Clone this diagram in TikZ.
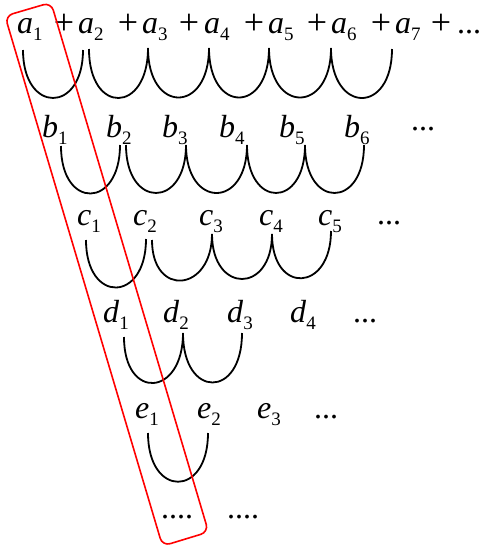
\documentclass[tikz,border=0pt]{standalone}
\usepackage{fontspec}
\setmainfont{Liberation Serif}
\usetikzlibrary{calc}
\newcommand\sbs[1]{\raisebox{-7pt}{\fontsize{19}{19}\selectfont #1}}
\newcommand\tm[2]{\textit{#1}\sbs{#2}}
\newcommand\uarc[3]{\draw[arcline] (#1) .. controls ($(#1)+(0,#3)$) and ($(#2)+(0,#3)$) .. (#2);}
\begin{document}
\begin{tikzpicture}[x=1pt,y=-1pt,
 term/.style={inner sep=0pt, anchor=base west, font=\fontsize{32}{38}\selectfont},
 plus/.style={inner sep=0pt, anchor=base, font=\fontsize{36}{40}\selectfont},
 arcline/.style={line width=1.8pt, black},
 frame/.style={red, line width=1.6pt, rounded corners=8pt}]
\useasboundingbox (0,0) rectangle (483,550);

% row a
\node[term] (a1) at (17,33) {\tm{a}{1}};
\node[plus] (p1) at (64,34) {+};
\node[term] (a2) at (78,33) {\tm{a}{2}};
\node[plus] (p2) at (128,34) {+};
\node[term] (a3) at (142,33) {\tm{a}{3}};
\node[plus] (p3) at (189,34) {+};
\node[term] (a4) at (204,33) {\tm{a}{4}};
\node[plus] (p4) at (254,34) {+};
\node[term] (a5) at (268,33) {\tm{a}{5}};
\node[plus] (p5) at (317,34) {+};
\node[term] (a6) at (331,33) {\tm{a}{6}};
\node[plus] (p6) at (381,34) {+};
\node[term] (a7) at (395,33) {\tm{a}{7}};
\node[plus] (p7) at (441,34) {+};
\node[term] (adots) at (457,33) {...};

% row b
\node[term] (b1) at (42,137) {\tm{b}{1}};
\node[term] (b2) at (106,137) {\tm{b}{2}};
\node[term] (b3) at (162,137) {\tm{b}{3}};
\node[term] (b4) at (219,137) {\tm{b}{4}};
\node[term] (b5) at (279,137) {\tm{b}{5}};
\node[term] (b6) at (344,137) {\tm{b}{6}};
\node[term] (bdots) at (411,130) {...};

% row c
\node[term] (c1) at (77,225) {\tm{c}{1}};
\node[term] (c2) at (133,225) {\tm{c}{2}};
\node[term] (c3) at (199,225) {\tm{c}{3}};
\node[term] (c4) at (259,225) {\tm{c}{4}};
\node[term] (c5) at (318,225) {\tm{c}{5}};
\node[term] (cdots) at (377,224) {...};

% row d
\node[term] (d1) at (103,322) {\tm{d}{1}};
\node[term] (d2) at (163,322) {\tm{d}{2}};
\node[term] (d3) at (227,322) {\tm{d}{3}};
\node[term] (d4) at (290,322) {\tm{d}{4}};
\node[term] (ddots) at (353,322) {...};

% row e
\node[term] (e1) at (135,418) {\tm{e}{1}};
\node[term] (e2) at (197,418) {\tm{e}{2}};
\node[term] (e3) at (257,418) {\tm{e}{3}};
\node[term] (edots) at (314,418) {...};

% last row
\node[term] (f1) at (161,518) {....};
\node[term] (f2) at (227,518) {....};

% arc end points
\coordinate (ua1) at (23,50);  \coordinate (ua2) at (83,50);
\coordinate (ua3) at (89,49);  \coordinate (ua4) at (148,48);
\coordinate (ua5) at (209,48); \coordinate (ua6) at (269,48);
\coordinate (ua7) at (331,48); \coordinate (ua8) at (392,49);

\coordinate (ub1) at (61,146);  \coordinate (ub2) at (120,145);
\coordinate (ub3) at (126,145); \coordinate (ub4) at (186,145);
\coordinate (ub5) at (247,145); \coordinate (ub6) at (305,145);
\coordinate (ub7) at (364,145);

\coordinate (uc1) at (86,240);  \coordinate (uc2) at (146,239);
\coordinate (uc3) at (152,240); \coordinate (uc4) at (212,234);
\coordinate (uc5) at (272,234); \coordinate (uc6) at (331,231);

\coordinate (ud1) at (124,337); \coordinate (ud2) at (183,333);
\coordinate (ud3) at (242,333);

\coordinate (ue1) at (148,433); \coordinate (ue2) at (208,433);

\uarc{ua1}{ua2}{64}
\uarc{ua3}{ua4}{66}
\uarc{ua4}{ua5}{66}
\uarc{ua5}{ua6}{66}
\uarc{ua6}{ua7}{66}
\uarc{ua7}{ua8}{66}

\uarc{ub1}{ub2}{64}
\uarc{ub3}{ub4}{64}
\uarc{ub4}{ub5}{64}
\uarc{ub5}{ub6}{64}
\uarc{ub6}{ub7}{64}

\uarc{uc1}{uc2}{64}
\uarc{uc3}{uc4}{58}
\uarc{uc4}{uc5}{60}
\uarc{uc5}{uc6}{61}

\uarc{ud1}{ud2}{64}
\uarc{ud2}{ud3}{66}

\uarc{ue1}{ue2}{65}

% red frame
\draw[frame] (5,16) -- (51,2.5) -- (208.5,532) -- (162.5,546) -- cycle;
\end{tikzpicture}
\end{document}
